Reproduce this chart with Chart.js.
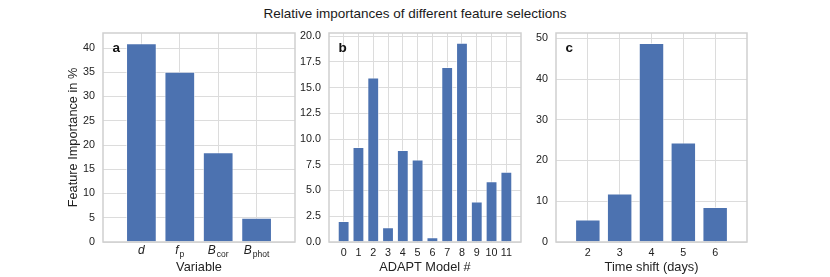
<!DOCTYPE html>
<html>
<head>
<meta charset="utf-8">
<script src="https://cdn.jsdelivr.net/npm/chart.js"></script>
<style>
  body { margin: 0; background: #fff; }
  #fig { position: relative; width: 830px; height: 277px; font-family: "Liberation Sans", Arial, sans-serif; }
  #title { position: absolute; left: 0; top: 6px; width: 830px; text-align: center; font-size: 13.5px; color: #1a1a1a; }
  canvas { position: absolute; }
</style>
</head>
<body>
<div id="fig">
  <div id="title">Relative importances of different feature selections</div>
  <canvas id="chartA" width="245" height="252" style="left:57px;top:25px"></canvas>
  <canvas id="chartB" width="226" height="252" style="left:300px;top:25px"></canvas>
  <canvas id="chartC" width="225" height="252" style="left:530px;top:25px"></canvas>
</div>
<script>
// panel a
const variableNames = ['d', 'f', 'B', 'B'];
const variableSubs = ['', 'p', 'cor', 'phot'];
const variableImportance = [41.0, 35.1, 18.5, 5.0];
const yTicksA = [0, 5, 10, 15, 20, 25, 30, 35, 40];

// panel b
const modelIds = [0, 1, 2, 3, 4, 5, 6, 7, 8, 9, 10, 11];
const modelImportance = [2.05, 9.22, 15.97, 1.43, 8.93, 8.02, 0.45, 17.0, 19.35, 3.93, 5.91, 6.82];
const yTicksB = [0, 2.5, 5, 7.5, 10, 12.5, 15, 17.5, 20];

// panel c
const timeShifts = [2, 3, 4, 5, 6];
const shiftImportance = [5.5, 11.9, 48.85, 24.4, 8.6];
const yTicksC = [0, 10, 20, 30, 40, 50];

const FONT = '"Liberation Sans", Arial, sans-serif';
const TEXT = '#222';
const GRID = '#dcdcdc';
const BAR = '#4c72b0';

const framePlugin = {
  id: 'frame',
  afterDatasetsDraw(chart) {
    const { ctx, chartArea: a } = chart;
    ctx.save();
    ctx.strokeStyle = '#cfcfcf';
    ctx.lineWidth = 1.5;
    ctx.strokeRect(a.left, a.top, a.right - a.left, a.bottom - a.top);
    ctx.restore();
  },
  afterDraw(chart) {
    const { ctx, chartArea: a } = chart;
    ctx.save();
    ctx.fillStyle = '#111';
    ctx.font = 'bold 13.5px ' + FONT;
    ctx.textBaseline = 'alphabetic';
    ctx.fillText(chart.options.plugins.frame.letter, a.left + 9.5, a.top + 19);
    ctx.restore();
  }
};

// x labels of panel a with subscripts
const subLabels = {
  id: 'subLabels',
  afterDraw(chart) {
    const { ctx, chartArea, scales: { x } } = chart;
    const main = 'italic 12px ' + FONT;
    const sub = '8.5px ' + FONT;
    ctx.save();
    ctx.fillStyle = TEXT;
    ctx.textAlign = 'left';
    ctx.textBaseline = 'alphabetic';
    variableNames.forEach((name, i) => {
      ctx.font = main;
      const w1 = ctx.measureText(name).width;
      ctx.font = sub;
      const w2 = variableSubs[i] ? ctx.measureText(variableSubs[i]).width + 1 : 0;
      const left = x.getPixelForValue(i) - (w1 + w2) / 2;
      const base = chartArea.bottom + 11.5;
      ctx.font = main;
      ctx.fillText(name, left, base);
      if (variableSubs[i]) {
        ctx.font = sub;
        ctx.fillText(variableSubs[i], left + w1 + 1, base + 3);
      }
    });
    ctx.restore();
  }
};

function makeChart(id, cfg) {
  const points = cfg.xs.map((x, i) => ({ x: x, y: cfg.ys[i] }));
  const plugins = [framePlugin];
  if (cfg.extra) plugins.push(cfg.extra);
  return new Chart(document.getElementById(id), {
    type: 'bar',
    data: {
      datasets: [{
        data: points,
        backgroundColor: BAR,
        borderColor: 'rgba(255,255,255,0.6)',
        borderWidth: 1,
        barPercentage: 0.8,
        categoryPercentage: 1.0
      }]
    },
    options: {
      responsive: false,
      animation: false,
      layout: { padding: { top: 8, right: cfg.padRight, bottom: 0, left: 0 } },
      plugins: {
        legend: { display: false },
        tooltip: { enabled: false },
        frame: { letter: cfg.letter }
      },
      scales: {
        x: {
          type: 'linear',
          min: cfg.xMin,
          max: cfg.xMax,
          offset: false,
          grid: { color: GRID, lineWidth: 1, drawTicks: false, offset: false },
          border: { display: false },
          afterBuildTicks: s => { s.ticks = cfg.xs.map(v => ({ value: v })); },
          afterFit: s => { s.height = 35; s.paddingLeft = 0; s.paddingRight = 0; },
          ticks: {
            autoSkip: false,
            maxRotation: 0,
            padding: 4.5,
            color: TEXT,
            font: { family: FONT, size: 10.75 },
            callback: cfg.xLabel || (v => String(v))
          },
          title: {
            display: true,
            text: cfg.xTitle,
            color: TEXT,
            font: { family: FONT, size: 12.75 },
            padding: { top: 0, bottom: 1.5 }
          }
        },
        y: {
          min: 0,
          max: cfg.yMax,
          grid: { color: GRID, lineWidth: 1, drawTicks: false },
          border: { display: false },
          afterBuildTicks: s => { s.ticks = cfg.yTicks.map(v => ({ value: v })); },
          afterFit: s => { s.width = cfg.yWidth; s.paddingTop = 0; s.paddingBottom = 0; },
          ticks: {
            padding: 8,
            color: TEXT,
            font: { family: FONT, size: 10.75 },
            callback: cfg.yLabel || (v => String(v))
          },
          title: {
            display: !!cfg.yTitle,
            text: cfg.yTitle || '',
            color: TEXT,
            font: { family: FONT, size: 12.75 },
            padding: { top: 8.5, bottom: 0 }
          }
        }
      }
    },
    plugins: plugins
  });
}

makeChart('chartA', {
  xs: variableNames.map((n, i) => i),
  ys: variableImportance,
  xMin: -1, xMax: 4,
  yMax: 43.1, yTicks: yTicksA,
  yWidth: 46, padRight: 7,
  letter: 'a',
  xTitle: 'Variable',
  yTitle: 'Feature Importance in %',
  xLabel: () => '',
  extra: subLabels
});

makeChart('chartB', {
  xs: modelIds,
  ys: modelImportance,
  xMin: -0.99, xMax: 11.99,
  yMax: 20.3, yTicks: yTicksB,
  yWidth: 29, padRight: 5,
  letter: 'b',
  xTitle: 'ADAPT Model #',
  yLabel: v => v.toFixed(1)
});

makeChart('chartC', {
  xs: timeShifts,
  ys: shiftImportance,
  xMin: 1, xMax: 7,
  yMax: 51.3, yTicks: yTicksC,
  yWidth: 26, padRight: 8,
  letter: 'c',
  xTitle: 'Time shift (days)'
});
</script>
</body>
</html>
